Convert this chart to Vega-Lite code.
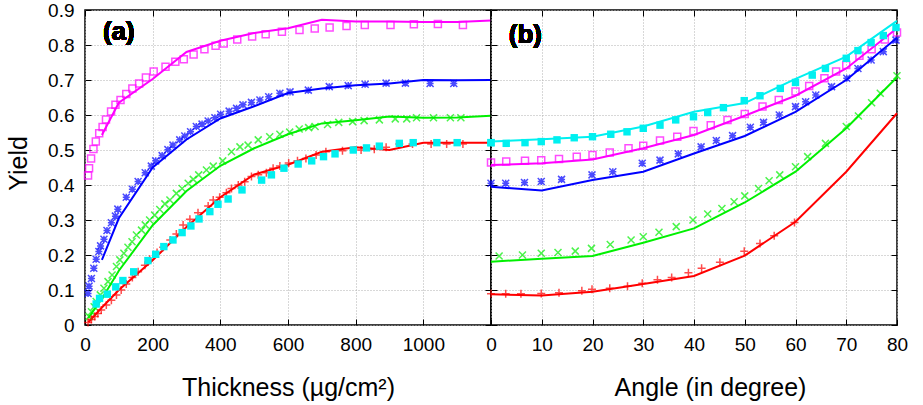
{
"$schema":"https://vega.github.io/schema/vega-lite/v6.json",
"padding":{"left":5,"top":0,"right":5,"bottom":0},
"config":{
 "font":"Liberation Sans",
 "view":{"stroke":"#000000","strokeWidth":1.5},
 "axis":{"labelFont":"Liberation Sans","labelFontSize":19,"labelColor":"#000000","titleFont":"Liberation Sans","titleFontSize":25,"titleFontWeight":"normal","titleColor":"#000000","tickColor":"#000000","tickSize":-6,"tickWidth":1,"domain":false,"gridColor":"#b0b0b0","gridDash":[1,2],"gridWidth":1,"gridOpacity":1,"labelPadding":18,"labelFlush":false,"labelOverlap":false}
},
"datasets":{
"a":[
{"k":"l","s":"m","x":50,"y":0.543},{"k":"l","s":"m","x":100,"y":0.635},{"k":"l","s":"m","x":200,"y":0.703},{"k":"l","s":"m","x":300,"y":0.78},{"k":"l","s":"m","x":400,"y":0.812},{"k":"l","s":"m","x":500,"y":0.834},{"k":"l","s":"m","x":600,"y":0.848},{"k":"l","s":"m","x":700,"y":0.872},{"k":"l","s":"m","x":800,"y":0.867},{"k":"l","s":"m","x":900,"y":0.867},{"k":"l","s":"m","x":1000,"y":0.866},{"k":"l","s":"m","x":1100,"y":0.866},{"k":"l","s":"m","x":1200,"y":0.87},
{"k":"l","s":"b","x":50,"y":0.186},{"k":"l","s":"b","x":100,"y":0.305},{"k":"l","s":"b","x":200,"y":0.45},{"k":"l","s":"b","x":300,"y":0.53},{"k":"l","s":"b","x":400,"y":0.59},{"k":"l","s":"b","x":500,"y":0.625},{"k":"l","s":"b","x":600,"y":0.663},{"k":"l","s":"b","x":700,"y":0.676},{"k":"l","s":"b","x":800,"y":0.685},{"k":"l","s":"b","x":900,"y":0.69},{"k":"l","s":"b","x":1000,"y":0.7},{"k":"l","s":"b","x":1100,"y":0.699},{"k":"l","s":"b","x":1200,"y":0.7},
{"k":"l","s":"g","x":10,"y":0.02},{"k":"l","s":"g","x":50,"y":0.075},{"k":"l","s":"g","x":100,"y":0.155},{"k":"l","s":"g","x":200,"y":0.285},{"k":"l","s":"g","x":300,"y":0.383},{"k":"l","s":"g","x":400,"y":0.455},{"k":"l","s":"g","x":500,"y":0.505},{"k":"l","s":"g","x":600,"y":0.545},{"k":"l","s":"g","x":700,"y":0.576},{"k":"l","s":"g","x":800,"y":0.585},{"k":"l","s":"g","x":900,"y":0.596},{"k":"l","s":"g","x":1000,"y":0.592},{"k":"l","s":"g","x":1100,"y":0.593},{"k":"l","s":"g","x":1200,"y":0.598},
{"k":"l","s":"r","x":10,"y":0.008},{"k":"l","s":"r","x":50,"y":0.05},{"k":"l","s":"r","x":100,"y":0.1},{"k":"l","s":"r","x":200,"y":0.185},{"k":"l","s":"r","x":300,"y":0.28},{"k":"l","s":"r","x":400,"y":0.365},{"k":"l","s":"r","x":500,"y":0.43},{"k":"l","s":"r","x":600,"y":0.458},{"k":"l","s":"r","x":700,"y":0.495},{"k":"l","s":"r","x":800,"y":0.508},{"k":"l","s":"r","x":900,"y":0.5},{"k":"l","s":"r","x":1000,"y":0.521},{"k":"l","s":"r","x":1100,"y":0.521},{"k":"l","s":"r","x":1200,"y":0.521},
{"k":"p","s":"m","x":9,"y":0.427},{"k":"p","s":"m","x":12,"y":0.448},{"k":"p","s":"m","x":18,"y":0.476},{"k":"p","s":"m","x":25,"y":0.503},{"k":"p","s":"m","x":32,"y":0.524},{"k":"p","s":"m","x":42,"y":0.548},{"k":"p","s":"m","x":52,"y":0.566},{"k":"p","s":"m","x":62,"y":0.587},{"k":"p","s":"m","x":77,"y":0.61},{"k":"p","s":"m","x":90,"y":0.629},{"k":"p","s":"m","x":105,"y":0.643},{"k":"p","s":"m","x":122,"y":0.66},{"k":"p","s":"m","x":140,"y":0.676},{"k":"p","s":"m","x":160,"y":0.69},{"k":"p","s":"m","x":180,"y":0.707},{"k":"p","s":"m","x":203,"y":0.724},{"k":"p","s":"m","x":238,"y":0.738},{"k":"p","s":"m","x":267,"y":0.752},{"k":"p","s":"m","x":292,"y":0.759},{"k":"p","s":"m","x":321,"y":0.773},{"k":"p","s":"m","x":353,"y":0.788},{"k":"p","s":"m","x":386,"y":0.798},{"k":"p","s":"m","x":410,"y":0.804},{"k":"p","s":"m","x":450,"y":0.816},{"k":"p","s":"m","x":494,"y":0.824},{"k":"p","s":"m","x":534,"y":0.831},{"k":"p","s":"m","x":582,"y":0.838},{"k":"p","s":"m","x":634,"y":0.843},{"k":"p","s":"m","x":679,"y":0.847},{"k":"p","s":"m","x":723,"y":0.85},{"k":"p","s":"m","x":773,"y":0.854},{"k":"p","s":"m","x":827,"y":0.857},{"k":"p","s":"m","x":903,"y":0.857},{"k":"p","s":"m","x":972,"y":0.859},{"k":"p","s":"m","x":1043,"y":0.86},{"k":"p","s":"m","x":1117,"y":0.857},
{"k":"p","s":"b","x":9,"y":0.09},{"k":"p","s":"b","x":12,"y":0.111},{"k":"p","s":"b","x":19,"y":0.133},{"k":"p","s":"b","x":26,"y":0.162},{"k":"p","s":"b","x":33,"y":0.188},{"k":"p","s":"b","x":41,"y":0.21},{"k":"p","s":"b","x":46,"y":0.226},{"k":"p","s":"b","x":56,"y":0.245},{"k":"p","s":"b","x":65,"y":0.27},{"k":"p","s":"b","x":78,"y":0.292},{"k":"p","s":"b","x":90,"y":0.311},{"k":"p","s":"b","x":97,"y":0.331},{"k":"p","s":"b","x":122,"y":0.365},{"k":"p","s":"b","x":140,"y":0.388},{"k":"p","s":"b","x":157,"y":0.41},{"k":"p","s":"b","x":178,"y":0.435},{"k":"p","s":"b","x":196,"y":0.454},{"k":"p","s":"b","x":209,"y":0.469},{"k":"p","s":"b","x":228,"y":0.484},{"k":"p","s":"b","x":245,"y":0.501},{"k":"p","s":"b","x":260,"y":0.514},{"k":"p","s":"b","x":280,"y":0.529},{"k":"p","s":"b","x":295,"y":0.54},{"k":"p","s":"b","x":312,"y":0.552},{"k":"p","s":"b","x":329,"y":0.567},{"k":"p","s":"b","x":346,"y":0.574},{"k":"p","s":"b","x":364,"y":0.583},{"k":"p","s":"b","x":384,"y":0.592},{"k":"p","s":"b","x":401,"y":0.602},{"k":"p","s":"b","x":426,"y":0.611},{"k":"p","s":"b","x":448,"y":0.619},{"k":"p","s":"b","x":467,"y":0.629},{"k":"p","s":"b","x":492,"y":0.636},{"k":"p","s":"b","x":517,"y":0.643},{"k":"p","s":"b","x":543,"y":0.652},{"k":"p","s":"b","x":576,"y":0.662},{"k":"p","s":"b","x":606,"y":0.666},{"k":"p","s":"b","x":660,"y":0.671},{"k":"p","s":"b","x":722,"y":0.681},{"k":"p","s":"b","x":778,"y":0.684},{"k":"p","s":"b","x":828,"y":0.688},{"k":"p","s":"b","x":890,"y":0.691},{"k":"p","s":"b","x":947,"y":0.691},{"k":"p","s":"b","x":1020,"y":0.69},{"k":"p","s":"b","x":1090,"y":0.69},
{"k":"p","s":"g","x":12,"y":0.024},{"k":"p","s":"g","x":19,"y":0.038},{"k":"p","s":"g","x":27,"y":0.052},{"k":"p","s":"g","x":33,"y":0.067},{"k":"p","s":"g","x":45,"y":0.086},{"k":"p","s":"g","x":56,"y":0.105},{"k":"p","s":"g","x":68,"y":0.124},{"k":"p","s":"g","x":80,"y":0.143},{"k":"p","s":"g","x":93,"y":0.167},{"k":"p","s":"g","x":103,"y":0.186},{"k":"p","s":"g","x":115,"y":0.205},{"k":"p","s":"g","x":127,"y":0.222},{"k":"p","s":"g","x":139,"y":0.238},{"k":"p","s":"g","x":152,"y":0.257},{"k":"p","s":"g","x":167,"y":0.271},{"k":"p","s":"g","x":178,"y":0.286},{"k":"p","s":"g","x":191,"y":0.3},{"k":"p","s":"g","x":206,"y":0.314},{"k":"p","s":"g","x":221,"y":0.33},{"k":"p","s":"g","x":236,"y":0.346},{"k":"p","s":"g","x":251,"y":0.357},{"k":"p","s":"g","x":270,"y":0.376},{"k":"p","s":"g","x":287,"y":0.39},{"k":"p","s":"g","x":305,"y":0.405},{"k":"p","s":"g","x":320,"y":0.416},{"k":"p","s":"g","x":336,"y":0.429},{"k":"p","s":"g","x":359,"y":0.443},{"k":"p","s":"g","x":379,"y":0.454},{"k":"p","s":"g","x":407,"y":0.469},{"k":"p","s":"g","x":433,"y":0.495},{"k":"p","s":"g","x":458,"y":0.509},{"k":"p","s":"g","x":482,"y":0.514},{"k":"p","s":"g","x":512,"y":0.529},{"k":"p","s":"g","x":546,"y":0.538},{"k":"p","s":"g","x":576,"y":0.545},{"k":"p","s":"g","x":605,"y":0.551},{"k":"p","s":"g","x":633,"y":0.56},{"k":"p","s":"g","x":661,"y":0.564},{"k":"p","s":"g","x":680,"y":0.567},{"k":"p","s":"g","x":717,"y":0.573},{"k":"p","s":"g","x":750,"y":0.579},{"k":"p","s":"g","x":791,"y":0.581},{"k":"p","s":"g","x":825,"y":0.584},{"k":"p","s":"g","x":870,"y":0.586},{"k":"p","s":"g","x":917,"y":0.589},{"k":"p","s":"g","x":951,"y":0.589},{"k":"p","s":"g","x":980,"y":0.592},{"k":"p","s":"g","x":1030,"y":0.592},{"k":"p","s":"g","x":1080,"y":0.592},{"k":"p","s":"g","x":1111,"y":0.592},
{"k":"p","s":"r","x":9,"y":0.007},{"k":"p","s":"r","x":19,"y":0.016},{"k":"p","s":"r","x":29,"y":0.024},{"k":"p","s":"r","x":38,"y":0.033},{"k":"p","s":"r","x":48,"y":0.043},{"k":"p","s":"r","x":63,"y":0.057},{"k":"p","s":"r","x":78,"y":0.071},{"k":"p","s":"r","x":93,"y":0.086},{"k":"p","s":"r","x":107,"y":0.1},{"k":"p","s":"r","x":122,"y":0.117},{"k":"p","s":"r","x":140,"y":0.136},{"k":"p","s":"r","x":157,"y":0.152},{"k":"p","s":"r","x":177,"y":0.171},{"k":"p","s":"r","x":191,"y":0.188},{"k":"p","s":"r","x":213,"y":0.207},{"k":"p","s":"r","x":231,"y":0.222},{"k":"p","s":"r","x":252,"y":0.243},{"k":"p","s":"r","x":270,"y":0.26},{"k":"p","s":"r","x":290,"y":0.286},{"k":"p","s":"r","x":310,"y":0.302},{"k":"p","s":"r","x":334,"y":0.321},{"k":"p","s":"r","x":364,"y":0.34},{"k":"p","s":"r","x":379,"y":0.357},{"k":"p","s":"r","x":398,"y":0.365},{"k":"p","s":"r","x":418,"y":0.378},{"k":"p","s":"r","x":433,"y":0.39},{"k":"p","s":"r","x":453,"y":0.4},{"k":"p","s":"r","x":472,"y":0.409},{"k":"p","s":"r","x":492,"y":0.424},{"k":"p","s":"r","x":512,"y":0.429},{"k":"p","s":"r","x":536,"y":0.435},{"k":"p","s":"r","x":556,"y":0.448},{"k":"p","s":"r","x":576,"y":0.454},{"k":"p","s":"r","x":602,"y":0.463},{"k":"p","s":"r","x":628,"y":0.469},{"k":"p","s":"r","x":653,"y":0.476},{"k":"p","s":"r","x":683,"y":0.486},{"k":"p","s":"r","x":712,"y":0.495},{"k":"p","s":"r","x":761,"y":0.498},{"k":"p","s":"r","x":816,"y":0.5},{"k":"p","s":"r","x":855,"y":0.502},{"k":"p","s":"r","x":890,"y":0.508},{"k":"p","s":"r","x":929,"y":0.517},{"k":"p","s":"r","x":968,"y":0.517},{"k":"p","s":"r","x":1023,"y":0.517},{"k":"p","s":"r","x":1069,"y":0.517},{"k":"p","s":"r","x":1117,"y":0.517},
{"k":"p","s":"c","x":33,"y":0.06},{"k":"p","s":"c","x":43,"y":0.076},{"k":"p","s":"c","x":66,"y":0.088},{"k":"p","s":"c","x":91,"y":0.109},{"k":"p","s":"c","x":112,"y":0.127},{"k":"p","s":"c","x":144,"y":0.152},{"k":"p","s":"c","x":186,"y":0.184},{"k":"p","s":"c","x":209,"y":0.202},{"k":"p","s":"c","x":233,"y":0.224},{"k":"p","s":"c","x":260,"y":0.243},{"k":"p","s":"c","x":287,"y":0.264},{"k":"p","s":"c","x":313,"y":0.283},{"k":"p","s":"c","x":337,"y":0.303},{"k":"p","s":"c","x":369,"y":0.324},{"k":"p","s":"c","x":393,"y":0.345},{"k":"p","s":"c","x":423,"y":0.36},{"k":"p","s":"c","x":464,"y":0.386},{"k":"p","s":"c","x":522,"y":0.414},{"k":"p","s":"c","x":551,"y":0.429},{"k":"p","s":"c","x":588,"y":0.448},{"k":"p","s":"c","x":630,"y":0.46},{"k":"p","s":"c","x":670,"y":0.469},{"k":"p","s":"c","x":705,"y":0.481},{"k":"p","s":"c","x":739,"y":0.489},{"k":"p","s":"c","x":793,"y":0.5},{"k":"p","s":"c","x":832,"y":0.506},{"k":"p","s":"c","x":870,"y":0.511},{"k":"p","s":"c","x":929,"y":0.519},{"k":"p","s":"c","x":970,"y":0.521},{"k":"p","s":"c","x":1040,"y":0.521},{"k":"p","s":"c","x":1100,"y":0.521},{"k":"p","s":"c","x":1200,"y":0.521}
],
"b":[
{"k":"l","s":"c","x":0,"y":0.524},{"k":"l","s":"c","x":10,"y":0.531},{"k":"l","s":"c","x":20,"y":0.538},{"k":"l","s":"c","x":30,"y":0.567},{"k":"l","s":"c","x":40,"y":0.609},{"k":"l","s":"c","x":50,"y":0.634},{"k":"l","s":"c","x":60,"y":0.703},{"k":"l","s":"c","x":70,"y":0.767},{"k":"l","s":"c","x":80,"y":0.869},
{"k":"l","s":"m","x":0,"y":0.457},{"k":"l","s":"m","x":10,"y":0.462},{"k":"l","s":"m","x":20,"y":0.473},{"k":"l","s":"m","x":30,"y":0.505},{"k":"l","s":"m","x":40,"y":0.543},{"k":"l","s":"m","x":50,"y":0.598},{"k":"l","s":"m","x":60,"y":0.655},{"k":"l","s":"m","x":70,"y":0.733},{"k":"l","s":"m","x":80,"y":0.848},
{"k":"l","s":"b","x":0,"y":0.395},{"k":"l","s":"b","x":10,"y":0.384},{"k":"l","s":"b","x":20,"y":0.414},{"k":"l","s":"b","x":30,"y":0.438},{"k":"l","s":"b","x":40,"y":0.49},{"k":"l","s":"b","x":50,"y":0.54},{"k":"l","s":"b","x":60,"y":0.609},{"k":"l","s":"b","x":70,"y":0.7},{"k":"l","s":"b","x":80,"y":0.821},
{"k":"l","s":"g","x":0,"y":0.181},{"k":"l","s":"g","x":10,"y":0.189},{"k":"l","s":"g","x":20,"y":0.197},{"k":"l","s":"g","x":30,"y":0.235},{"k":"l","s":"g","x":40,"y":0.276},{"k":"l","s":"g","x":50,"y":0.35},{"k":"l","s":"g","x":60,"y":0.438},{"k":"l","s":"g","x":70,"y":0.562},{"k":"l","s":"g","x":80,"y":0.708},
{"k":"l","s":"r","x":0,"y":0.088},{"k":"l","s":"r","x":10,"y":0.084},{"k":"l","s":"r","x":20,"y":0.095},{"k":"l","s":"r","x":30,"y":0.117},{"k":"l","s":"r","x":40,"y":0.14},{"k":"l","s":"r","x":50,"y":0.198},{"k":"l","s":"r","x":60,"y":0.295},{"k":"l","s":"r","x":70,"y":0.438},{"k":"l","s":"r","x":80,"y":0.605},
{"k":"p","s":"c","x":0,"y":0.521},{"k":"p","s":"c","x":3,"y":0.519},{"k":"p","s":"c","x":6.7,"y":0.521},{"k":"p","s":"c","x":9.9,"y":0.524},{"k":"p","s":"c","x":13,"y":0.529},{"k":"p","s":"c","x":16.4,"y":0.535},{"k":"p","s":"c","x":20,"y":0.538},{"k":"p","s":"c","x":23.6,"y":0.545},{"k":"p","s":"c","x":26.8,"y":0.552},{"k":"p","s":"c","x":30,"y":0.562},{"k":"p","s":"c","x":33.3,"y":0.571},{"k":"p","s":"c","x":36.4,"y":0.586},{"k":"p","s":"c","x":39.9,"y":0.595},{"k":"p","s":"c","x":42.7,"y":0.607},{"k":"p","s":"c","x":45.8,"y":0.621},{"k":"p","s":"c","x":49.9,"y":0.641},{"k":"p","s":"c","x":53,"y":0.655},{"k":"p","s":"c","x":57,"y":0.676},{"k":"p","s":"c","x":60,"y":0.693},{"k":"p","s":"c","x":63.3,"y":0.714},{"k":"p","s":"c","x":65.9,"y":0.733},{"k":"p","s":"c","x":70,"y":0.762},{"k":"p","s":"c","x":72.3,"y":0.784},{"k":"p","s":"c","x":74.9,"y":0.807},{"k":"p","s":"c","x":77.3,"y":0.827},{"k":"p","s":"c","x":79.8,"y":0.85},
{"k":"p","s":"m","x":0,"y":0.464},{"k":"p","s":"m","x":3,"y":0.467},{"k":"p","s":"m","x":6.7,"y":0.469},{"k":"p","s":"m","x":9.9,"y":0.471},{"k":"p","s":"m","x":13.4,"y":0.474},{"k":"p","s":"m","x":16.9,"y":0.481},{"k":"p","s":"m","x":20,"y":0.486},{"k":"p","s":"m","x":23.4,"y":0.493},{"k":"p","s":"m","x":27.1,"y":0.505},{"k":"p","s":"m","x":30,"y":0.512},{"k":"p","s":"m","x":33.3,"y":0.527},{"k":"p","s":"m","x":36.7,"y":0.538},{"k":"p","s":"m","x":39.9,"y":0.554},{"k":"p","s":"m","x":43.3,"y":0.571},{"k":"p","s":"m","x":46.6,"y":0.586},{"k":"p","s":"m","x":50,"y":0.603},{"k":"p","s":"m","x":53.5,"y":0.624},{"k":"p","s":"m","x":56.7,"y":0.643},{"k":"p","s":"m","x":60,"y":0.667},{"k":"p","s":"m","x":62.7,"y":0.683},{"k":"p","s":"m","x":65.7,"y":0.705},{"k":"p","s":"m","x":68,"y":0.724},{"k":"p","s":"m","x":70,"y":0.743},{"k":"p","s":"m","x":72.6,"y":0.769},{"k":"p","s":"m","x":75,"y":0.788},{"k":"p","s":"m","x":77.6,"y":0.816},{"k":"p","s":"m","x":80,"y":0.836},
{"k":"p","s":"b","x":0,"y":0.405},{"k":"p","s":"b","x":2.9,"y":0.405},{"k":"p","s":"b","x":6.6,"y":0.407},{"k":"p","s":"b","x":9.9,"y":0.41},{"k":"p","s":"b","x":13.9,"y":0.416},{"k":"p","s":"b","x":19.9,"y":0.429},{"k":"p","s":"b","x":24,"y":0.438},{"k":"p","s":"b","x":29.8,"y":0.462},{"k":"p","s":"b","x":33.3,"y":0.471},{"k":"p","s":"b","x":36.9,"y":0.489},{"k":"p","s":"b","x":41.4,"y":0.509},{"k":"p","s":"b","x":44.4,"y":0.527},{"k":"p","s":"b","x":47.6,"y":0.541},{"k":"p","s":"b","x":51.1,"y":0.565},{"k":"p","s":"b","x":53.7,"y":0.579},{"k":"p","s":"b","x":56.8,"y":0.6},{"k":"p","s":"b","x":60,"y":0.624},{"k":"p","s":"b","x":62,"y":0.638},{"k":"p","s":"b","x":64,"y":0.657},{"k":"p","s":"b","x":67.1,"y":0.681},{"k":"p","s":"b","x":70.1,"y":0.705},{"k":"p","s":"b","x":72.3,"y":0.733},{"k":"p","s":"b","x":74.9,"y":0.757},{"k":"p","s":"b","x":77.3,"y":0.781},{"k":"p","s":"b","x":79.8,"y":0.814},
{"k":"p","s":"g","x":1.6,"y":0.197},{"k":"p","s":"g","x":6.2,"y":0.2},{"k":"p","s":"g","x":9.9,"y":0.205},{"k":"p","s":"g","x":13.2,"y":0.207},{"k":"p","s":"g","x":16.6,"y":0.211},{"k":"p","s":"g","x":19.8,"y":0.219},{"k":"p","s":"g","x":23.5,"y":0.23},{"k":"p","s":"g","x":27.6,"y":0.243},{"k":"p","s":"g","x":30,"y":0.252},{"k":"p","s":"g","x":33.1,"y":0.265},{"k":"p","s":"g","x":36.5,"y":0.281},{"k":"p","s":"g","x":39.8,"y":0.3},{"k":"p","s":"g","x":42.7,"y":0.317},{"k":"p","s":"g","x":45.5,"y":0.333},{"k":"p","s":"g","x":47.9,"y":0.352},{"k":"p","s":"g","x":50,"y":0.369},{"k":"p","s":"g","x":52.7,"y":0.39},{"k":"p","s":"g","x":54.8,"y":0.412},{"k":"p","s":"g","x":56.9,"y":0.429},{"k":"p","s":"g","x":60,"y":0.452},{"k":"p","s":"g","x":62.4,"y":0.481},{"k":"p","s":"g","x":65.9,"y":0.519},{"k":"p","s":"g","x":70,"y":0.567},{"k":"p","s":"g","x":72.4,"y":0.597},{"k":"p","s":"g","x":75,"y":0.635},{"k":"p","s":"g","x":76.7,"y":0.662},{"k":"p","s":"g","x":80,"y":0.712},
{"k":"p","s":"r","x":0,"y":0.089},{"k":"p","s":"r","x":2.9,"y":0.089},{"k":"p","s":"r","x":5.9,"y":0.089},{"k":"p","s":"r","x":9.9,"y":0.09},{"k":"p","s":"r","x":13.4,"y":0.092},{"k":"p","s":"r","x":17.9,"y":0.098},{"k":"p","s":"r","x":19.9,"y":0.102},{"k":"p","s":"r","x":23.4,"y":0.105},{"k":"p","s":"r","x":26.9,"y":0.111},{"k":"p","s":"r","x":29.8,"y":0.119},{"k":"p","s":"r","x":32.8,"y":0.129},{"k":"p","s":"r","x":35.6,"y":0.136},{"k":"p","s":"r","x":38.9,"y":0.149},{"k":"p","s":"r","x":41.5,"y":0.162},{"k":"p","s":"r","x":45.1,"y":0.179},{"k":"p","s":"r","x":49.9,"y":0.211},{"k":"p","s":"r","x":53,"y":0.233},{"k":"p","s":"r","x":55.8,"y":0.255},{"k":"p","s":"r","x":59.8,"y":0.293}
]
},
"spacing":0,
"bounds":"flush",
"hconcat":[
{
 "width":406,"height":315,
 "data":{"name":"a"},
 "resolve":{"axis":{"x":"independent","y":"independent"}},
 "layer":[
  {"transform":[{"filter":"datum.k=='l'"}],
   "mark":{"type":"line","strokeWidth":2},
   "encoding":{
    "x":{"field":"x","type":"quantitative","scale":{"domain":[0,1200],"nice":false,"zero":false},"axis":{"orient":"bottom","values":[0,200,400,600,800,1000],"format":"d","grid":true,"labelPadding":16,"title":"Thickness (µg/cm²)","titleY":70,"titleBaseline":"alphabetic"}},
    "y":{"field":"y","type":"quantitative","scale":{"domain":[0,0.9],"nice":false},"axis":{"orient":"left","values":[0,0.1,0.2,0.3,0.4,0.5,0.6,0.7,0.8,0.9],"format":".1~f","grid":true,"title":"Yield","titleX":-59,"titleY":153,"titleAngle":270,"titleBaseline":"alphabetic","labelPadding":17}},
    "color":{"field":"s","type":"nominal","scale":{"domain":["m","b","g","r","c"],"range":["#ff00ff","#0000ff","#00f000","#ff0000","#00f0f0"]},"legend":null},
    "detail":{"field":"s"},
    "order":{"field":"x","type":"quantitative"}
   }},
  {"transform":[{"filter":"datum.k=='p' && datum.s=='m'"}],
   "mark":{"type":"point","shape":"square","filled":false,"size":49,"strokeWidth":1.5,"color":"#ff00ff"},
   "encoding":{"x":{"field":"x","type":"quantitative","axis":null},"y":{"field":"y","type":"quantitative","axis":null}}},
  {"transform":[{"filter":"datum.k=='p' && datum.s=='b'"}],
   "mark":{"type":"point","shape":"M-1,0L1,0M0,-1L0,1M-1,-1L1,1M-1,1L1,-1","filled":false,"size":49,"strokeWidth":1.5,"color":"#0000ff"},
   "encoding":{"x":{"field":"x","type":"quantitative","axis":null},"y":{"field":"y","type":"quantitative","axis":null}}},
  {"transform":[{"filter":"datum.k=='p' && datum.s=='g'"}],
   "mark":{"type":"point","shape":"M-1,-1L1,1M-1,1L1,-1","filled":false,"size":49,"strokeWidth":1.5,"color":"#00f000"},
   "encoding":{"x":{"field":"x","type":"quantitative","axis":null},"y":{"field":"y","type":"quantitative","axis":null}}},
  {"transform":[{"filter":"datum.k=='p' && datum.s=='r'"}],
   "mark":{"type":"point","shape":"M-1,0L1,0M0,-1L0,1","filled":false,"size":64,"strokeWidth":1.5,"color":"#ff0000"},
   "encoding":{"x":{"field":"x","type":"quantitative","axis":null},"y":{"field":"y","type":"quantitative","axis":null}}},
  {"transform":[{"filter":"datum.k=='p' && datum.s=='c'"}],
   "mark":{"type":"point","shape":"square","filled":true,"size":55,"opacity":1,"color":"#00f0f0"},
   "encoding":{"x":{"field":"x","type":"quantitative","axis":null},"y":{"field":"y","type":"quantitative","axis":null}}},
  {"mark":{"type":"point","opacity":0},
   "encoding":{"x":{"field":"x","type":"quantitative","axis":{"orient":"top","values":[0,200,400,600,800,1000],"labels":false,"grid":false,"title":null}},"y":{"field":"y","type":"quantitative","axis":{"orient":"right","values":[0,0.1,0.2,0.3,0.4,0.5,0.6,0.7,0.8,0.9],"labels":false,"grid":false,"title":null}}}},
  {"mark":{"type":"text","font":"Liberation Sans","fontSize":26,"fontWeight":"bold","align":"left","baseline":"middle","color":"#000000"},
   "encoding":{"x":{"datum":53,"type":"quantitative","axis":null},"y":{"datum":0.836,"type":"quantitative","axis":null},"text":{"value":"(a)"}}}
 ]
},
{
 "width":406,"height":315,
 "data":{"name":"b"},
 "resolve":{"axis":{"x":"independent","y":"independent"}},
 "layer":[
  {"transform":[{"filter":"datum.k=='l'"}],
   "mark":{"type":"line","strokeWidth":2},
   "encoding":{
    "x":{"field":"x","type":"quantitative","scale":{"domain":[0,80],"nice":false,"zero":false},"axis":{"orient":"bottom","values":[0,10,20,30,40,50,60,70,80],"grid":true,"labelPadding":16,"title":"Angle (in degree)","titleX":219,"titleY":70,"titleBaseline":"alphabetic"}},
    "y":{"field":"y","type":"quantitative","scale":{"domain":[0,0.9],"nice":false},"axis":{"orient":"left","values":[0,0.1,0.2,0.3,0.4,0.5,0.6,0.7,0.8,0.9],"labels":false,"grid":true,"title":null}},
    "color":{"field":"s","type":"nominal","scale":{"domain":["m","b","g","r","c"],"range":["#ff00ff","#0000ff","#00f000","#ff0000","#00f0f0"]},"legend":null},
    "detail":{"field":"s"},
    "order":{"field":"x","type":"quantitative"}
   }},
  {"transform":[{"filter":"datum.k=='p' && datum.s=='m'"}],
   "mark":{"type":"point","shape":"square","filled":false,"size":49,"strokeWidth":1.5,"color":"#ff00ff"},
   "encoding":{"x":{"field":"x","type":"quantitative","axis":null},"y":{"field":"y","type":"quantitative","axis":null}}},
  {"transform":[{"filter":"datum.k=='p' && datum.s=='b'"}],
   "mark":{"type":"point","shape":"M-1,0L1,0M0,-1L0,1M-1,-1L1,1M-1,1L1,-1","filled":false,"size":49,"strokeWidth":1.5,"color":"#0000ff"},
   "encoding":{"x":{"field":"x","type":"quantitative","axis":null},"y":{"field":"y","type":"quantitative","axis":null}}},
  {"transform":[{"filter":"datum.k=='p' && datum.s=='g'"}],
   "mark":{"type":"point","shape":"M-1,-1L1,1M-1,1L1,-1","filled":false,"size":49,"strokeWidth":1.5,"color":"#00f000"},
   "encoding":{"x":{"field":"x","type":"quantitative","axis":null},"y":{"field":"y","type":"quantitative","axis":null}}},
  {"transform":[{"filter":"datum.k=='p' && datum.s=='r'"}],
   "mark":{"type":"point","shape":"M-1,0L1,0M0,-1L0,1","filled":false,"size":64,"strokeWidth":1.5,"color":"#ff0000"},
   "encoding":{"x":{"field":"x","type":"quantitative","axis":null},"y":{"field":"y","type":"quantitative","axis":null}}},
  {"transform":[{"filter":"datum.k=='p' && datum.s=='c'"}],
   "mark":{"type":"point","shape":"square","filled":true,"size":55,"opacity":1,"color":"#00f0f0"},
   "encoding":{"x":{"field":"x","type":"quantitative","axis":null},"y":{"field":"y","type":"quantitative","axis":null}}},
  {"mark":{"type":"point","opacity":0},
   "encoding":{"x":{"field":"x","type":"quantitative","axis":{"orient":"top","values":[0,10,20,30,40,50,60,70,80],"labels":false,"grid":false,"title":null}},"y":{"field":"y","type":"quantitative","axis":{"orient":"right","values":[0,0.1,0.2,0.3,0.4,0.5,0.6,0.7,0.8,0.9],"labels":false,"grid":false,"title":null}}}},
  {"mark":{"type":"text","font":"Liberation Sans","fontSize":26,"fontWeight":"bold","align":"left","baseline":"middle","color":"#000000"},
   "encoding":{"x":{"datum":3.5,"type":"quantitative","axis":null},"y":{"datum":0.83,"type":"quantitative","axis":null},"text":{"value":"(b)"}}}
 ]
}
]
}
